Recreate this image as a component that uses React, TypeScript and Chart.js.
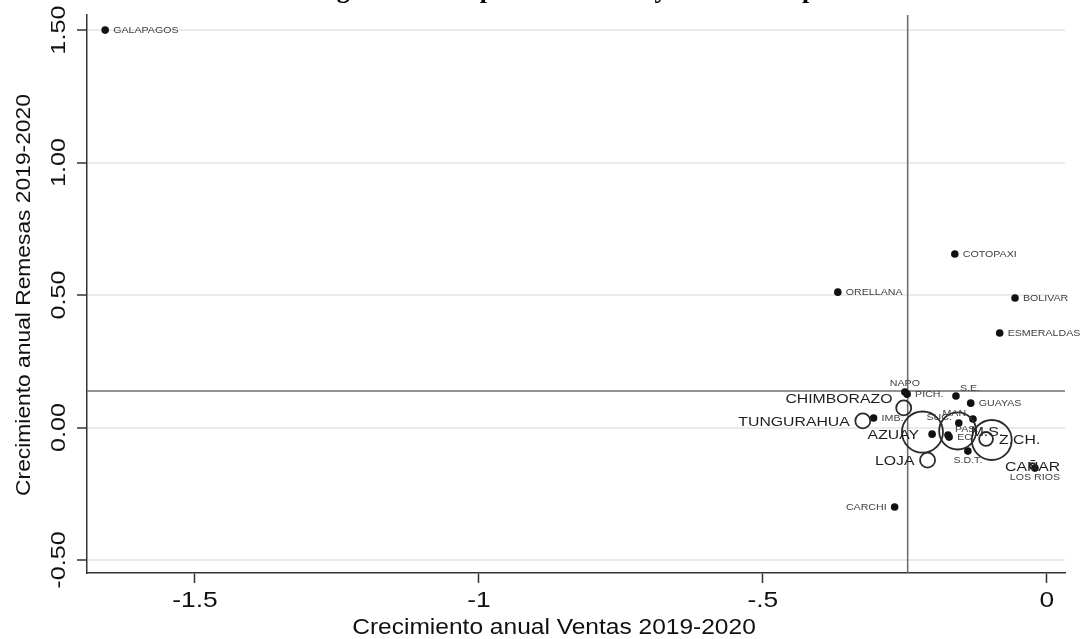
import React, { useEffect, useRef } from 'react';
import { Chart, registerables } from 'chart.js';

Chart.register(...registerables);

// ---------- Texts ----------
const tituloGrafico = 'Gráfico 3. Diagrama de dispersión: ventas y remesas de provincias';
const tituloX = 'Crecimiento anual Ventas 2019-2020';
const tituloY = 'Crecimiento anual Remesas 2019-2020';

// ---------- Axes ----------
const rangoX = [-1.69, 0.032];
const rangoY = [-0.549, 1.557];
const ticksX = [-1.5, -1, -0.5, 0];
const etiquetasX = ['-1.5', '-1', '-.5', '0'];
const ticksY = [-0.5, 0, 0.5, 1, 1.5];
const etiquetasY = ['-0.50', '0.00', '0.50', '1.00', '1.50'];

// Reference lines (means)
const lineaVentas = -0.245;
const lineaRemesas = 0.138;

// ---------- Solid markers ----------
const puntoNombres = [
  'GALAPAGOS', 'COTOPAXI', 'ORELLANA', 'BOLIVAR', 'ESMERALDAS', 'NAPO', 'PICH.', 'S.E.', 'GUAYAS',
  'IMB.', 'MAN', 'SUC.', 'PAS.', 'EC', 'AZUAY', 'S.D.T.', 'LOS RIOS', 'CARCHI',
];
const puntoVentas = [
  -1.658, -0.162, -0.368, -0.056, -0.083, -0.25, -0.246, -0.16, -0.134,
  -0.305, -0.13, -0.155, -0.174, -0.172, -0.202, -0.139, -0.021, -0.268,
];
const puntoRemesas = [
  1.5, 0.655, 0.511, 0.489, 0.357, 0.134, 0.126, 0.119, 0.092,
  0.036, 0.032, 0.017, -0.028, -0.036, -0.025, -0.089, -0.153, -0.3,
];
// label clock position
const puntoPosicion = [3, 3, 3, 3, 3, 12, 3, 1, 3, 3, 10, 10, 2, 3, 9, 6, 6, 9];
const puntoEtiquetaGrande = [
  false, false, false, false, false, false, false, false, false,
  false, false, false, false, false, true, false, false, false,
];

// ---------- Hollow (weighted) markers ----------
const circuloNombres = ['CHIMBORAZO', 'TUNGURAHUA', 'LOJA', '', 'M.S.', '', 'Z.CH.', 'CAÑAR'];
const circuloVentas = [-0.252, -0.324, -0.21, -0.219, -0.157, -0.097, -0.107, -0.025];
const circuloRemesas = [0.074, 0.025, -0.123, -0.017, -0.013, -0.047, -0.043, -0.145];
const circuloPeso = [1, 1, 1, 7.5, 6.1, 7.1, 0.85, 0.15];
const circuloPosicion = [10, 9, 9, 0, 3, 0, 3, 0];

const SANS = '"Liberation Sans", Arial, Helvetica, sans-serif';
const SERIF = '"Liberation Serif", "Times New Roman", serif';

function drawText(
  ctx: CanvasRenderingContext2D,
  text: string,
  x: number,
  y: number,
  size: number,
  stretch: number,
  align: CanvasTextAlign,
  rotate: boolean,
  color: string,
  family = SANS,
  weight = '400'
) {
  ctx.save();
  ctx.translate(x, y);
  if (rotate) ctx.rotate(-Math.PI / 2);
  ctx.scale(stretch, 1);
  ctx.font = `${weight} ${size}px ${family}`;
  ctx.textAlign = align;
  ctx.textBaseline = 'alphabetic';
  ctx.fillStyle = color;
  ctx.fillText(text, 0, 0);
  ctx.restore();
}

function drawLabel(
  ctx: CanvasRenderingContext2D,
  text: string,
  x: number,
  y: number,
  pos: number,
  size: number,
  stretch: number,
  gx: number,
  gy: number,
  color: string
) {
  if (!text) return;
  ctx.save();
  ctx.font = `400 ${size}px ${SANS}`;
  const w = ctx.measureText(text).width * stretch;
  ctx.restore();
  const h = size * 0.716;
  let cx = x;
  let cy = y;
  if (pos !== 0) {
    const th = (pos * Math.PI) / 6;
    const ux = Math.sin(th);
    const uy = -Math.cos(th);
    cx = x + ux * gx + (Math.abs(ux) > 0.1 ? Math.sign(ux) * (w / 2) : 0);
    cy = y + uy * gy + (Math.abs(uy) > 0.1 ? Math.sign(uy) * (h / 2) : 0);
  }
  drawText(ctx, text, cx, cy + h / 2, size, stretch, 'center', false, color);
}

const refLinesPlugin = {
  id: 'refLines',
  beforeDatasetsDraw(chart: any) {
    const { ctx, chartArea, scales } = chart;
    const px = scales.x.getPixelForValue(lineaVentas);
    const py = scales.y.getPixelForValue(lineaRemesas);
    ctx.save();
    ctx.strokeStyle = '#6f6f6f';
    ctx.lineWidth = 1.6;
    ctx.beginPath();
    ctx.moveTo(px, chartArea.top);
    ctx.lineTo(px, chartArea.bottom);
    ctx.moveTo(chartArea.left, py);
    ctx.lineTo(chartArea.right, py);
    ctx.stroke();
    ctx.restore();
  },
};

const labelsPlugin = {
  id: 'pointLabels',
  afterDatasetsDraw(chart: any) {
    const { ctx } = chart;
    const metaC = chart.getDatasetMeta(0);
    metaC.data.forEach((el: any, i: number) => {
      drawLabel(ctx, circuloNombres[i], el.x, el.y, circuloPosicion[i], 13.5, 1.17, 13, 10, '#1e1e1e');
    });
    const metaP = chart.getDatasetMeta(1);
    metaP.data.forEach((el: any, i: number) => {
      if (puntoEtiquetaGrande[i]) {
        drawLabel(ctx, puntoNombres[i], el.x, el.y, puntoPosicion[i], 13.5, 1.17, 13, 10, '#1e1e1e');
      } else {
        drawLabel(ctx, puntoNombres[i], el.x, el.y, puntoPosicion[i], 8.5, 1.25, 8, 6, '#3c3c3c');
      }
    });
  },
};

const axisTextPlugin = {
  id: 'axisText',
  afterDraw(chart: any) {
    const { ctx, chartArea, scales } = chart;
    // x tick labels
    ticksX.forEach((v, i) => {
      drawText(ctx, etiquetasX[i], scales.x.getPixelForValue(v), chartArea.bottom + 33.5, 22, 1.2, 'center', false, '#111');
    });
    // y tick labels (rotated)
    ticksY.forEach((v, i) => {
      drawText(ctx, etiquetasY[i], chartArea.left - 22, scales.y.getPixelForValue(v), 21, 1.2, 'center', true, '#111');
    });
    // axis titles
    drawText(ctx, tituloX, 554, chartArea.bottom + 60.5, 22.5, 1.09, 'center', false, '#111');
    drawText(ctx, tituloY, 30, (chartArea.top + chartArea.bottom) / 2 + 1, 20, 1.14, 'center', true, '#111');
    // cropped title
    drawText(ctx, tituloGrafico, 180, -2.5, 26, 1, 'left', false, '#000', SERIF, '700');
  },
};

export default function App() {
  const canvasRef = useRef<HTMLCanvasElement | null>(null);

  useEffect(() => {
    if (!canvasRef.current) return;
    const circulos = circuloVentas.map((x, i) => ({ x, y: circuloRemesas[i] }));
    const puntos = puntoVentas.map((x, i) => ({ x, y: puntoRemesas[i] }));
    const chart = new Chart(canvasRef.current, {
      type: 'scatter',
      data: {
        datasets: [
          {
            label: 'Provincias (peso)',
            data: circulos,
            pointRadius: circuloPeso.map((w) => 7.5 * Math.sqrt(w)),
            pointHoverRadius: circuloPeso.map((w) => 7.5 * Math.sqrt(w)),
            backgroundColor: 'rgba(0,0,0,0)',
            borderColor: '#2a2a2a',
            borderWidth: 1.8,
            pointBorderWidth: 1.8,
          } as any,
          {
            label: 'Provincias',
            data: puntos,
            pointRadius: 3.8,
            pointHoverRadius: 3.8,
            backgroundColor: '#111',
            borderColor: '#111',
            borderWidth: 0,
          } as any,
        ],
      },
      options: {
        responsive: false,
        animation: false,
        events: [],
        layout: { autoPadding: false, padding: { top: 15, right: 23, left: 0, bottom: 0 } },
        plugins: {
          legend: { display: false },
          tooltip: { enabled: false },
          title: { display: false },
        },
        scales: {
          x: {
            type: 'linear',
            min: rangoX[0],
            max: rangoX[1],
            afterBuildTicks: (scale: any) => {
              scale.ticks = ticksX.map((v) => ({ value: v }));
            },
            afterFit: (scale: any) => {
              scale.height = 66;
            },
            ticks: { display: false },
            grid: {
              display: true,
              drawOnChartArea: false,
              drawTicks: true,
              tickLength: 10,
              tickColor: '#333',
              tickWidth: 1.5,
            },
            border: { display: true, color: '#333', width: 1.5 },
          },
          y: {
            type: 'linear',
            min: rangoY[0],
            max: rangoY[1],
            afterBuildTicks: (scale: any) => {
              scale.ticks = ticksY.map((v) => ({ value: v }));
            },
            afterFit: (scale: any) => {
              scale.width = 87;
            },
            ticks: { display: false },
            grid: {
              display: true,
              drawOnChartArea: true,
              color: '#ebebeb',
              lineWidth: 2,
              drawTicks: true,
              tickLength: 10,
              tickColor: '#333',
              tickWidth: 1.5,
            },
            border: { display: true, color: '#333', width: 1.5 },
          },
        },
      } as any,
      plugins: [refLinesPlugin, labelsPlugin, axisTextPlugin],
    });
    return () => chart.destroy();
  }, []);

  return (
    <div style={{ position: 'absolute', left: 0, top: 0, width: 1088, height: 639, background: '#fff' }}>
      <canvas ref={canvasRef} width={1088} height={639} style={{ display: 'block' }} />
    </div>
  );
}
